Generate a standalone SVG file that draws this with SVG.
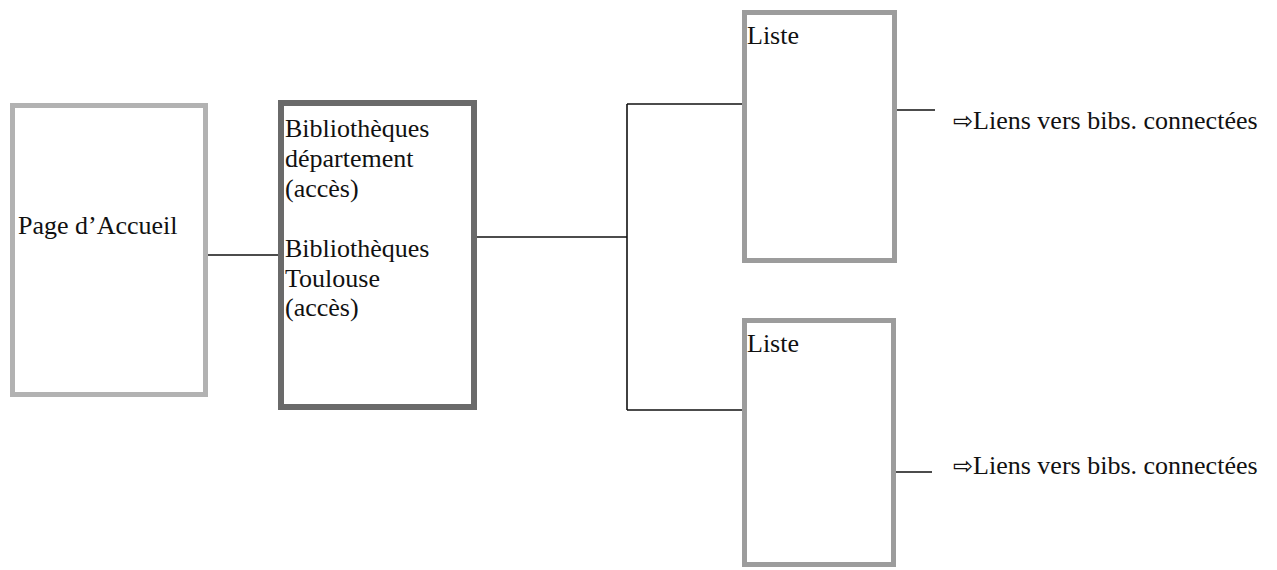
<svg xmlns="http://www.w3.org/2000/svg" width="1277" height="570" viewBox="0 0 1277 570">
  <style>
    .t { font-family: "Liberation Serif", "Times New Roman", serif; font-size: 26px; fill: #111; }
    .arr { font-family: "DejaVu Sans", sans-serif; font-size: 24px; }
    .box { fill: #fff; }
    .light { stroke: #b2b2b2; stroke-width: 5; }
    .dark { stroke: #6a6a6a; stroke-width: 6; }
    .mid { stroke: #9c9c9c; stroke-width: 5; }
    .conn { stroke: #111; stroke-width: 1.6; fill: none; }
  </style>
  <rect width="1277" height="570" fill="#fff"/>
  <g id="connectors">
    <line class="conn" x1="208" y1="255" x2="278" y2="255"/>
    <line class="conn" x1="477" y1="237" x2="627" y2="237"/>
    <line class="conn" x1="627" y1="104" x2="627" y2="410"/>
    <line class="conn" x1="627" y1="104" x2="742" y2="104"/>
    <line class="conn" x1="627" y1="410" x2="742" y2="410"/>
    <line class="conn" x1="897" y1="110" x2="935" y2="110"/>
    <line class="conn" x1="896" y1="472" x2="932" y2="472"/>
  </g>
  <g id="accueil">
    <rect class="box light" x="12.5" y="105.5" width="193" height="289"/>
    <text class="t" x="18" y="234">Page d’Accueil</text>
  </g>
  <g id="bibliotheques">
    <rect class="box dark" x="281" y="103" width="193" height="304"/>
    <text class="t" x="285" y="137">Bibliothèques</text>
    <text class="t" x="285" y="167">département</text>
    <text class="t" x="285" y="197">(accès)</text>
    <text class="t" x="285" y="257">Bibliothèques</text>
    <text class="t" x="285" y="287">Toulouse</text>
    <text class="t" x="285" y="316">(accès)</text>
  </g>
  <g id="liste1">
    <rect class="box mid" x="744.5" y="12.5" width="150" height="248"/>
    <text class="t" x="747" y="44">Liste</text>
  </g>
  <g id="liste2">
    <rect class="box mid" x="744.5" y="320.5" width="149" height="244"/>
    <text class="t" x="747" y="352">Liste</text>
  </g>
  <g id="liens1">
    <text class="t" x="953" y="129"><tspan class="arr">⇨</tspan>Liens vers bibs. connectées</text>
  </g>
  <g id="liens2">
    <text class="t" x="953" y="474"><tspan class="arr">⇨</tspan>Liens vers bibs. connectées</text>
  </g>
</svg>
